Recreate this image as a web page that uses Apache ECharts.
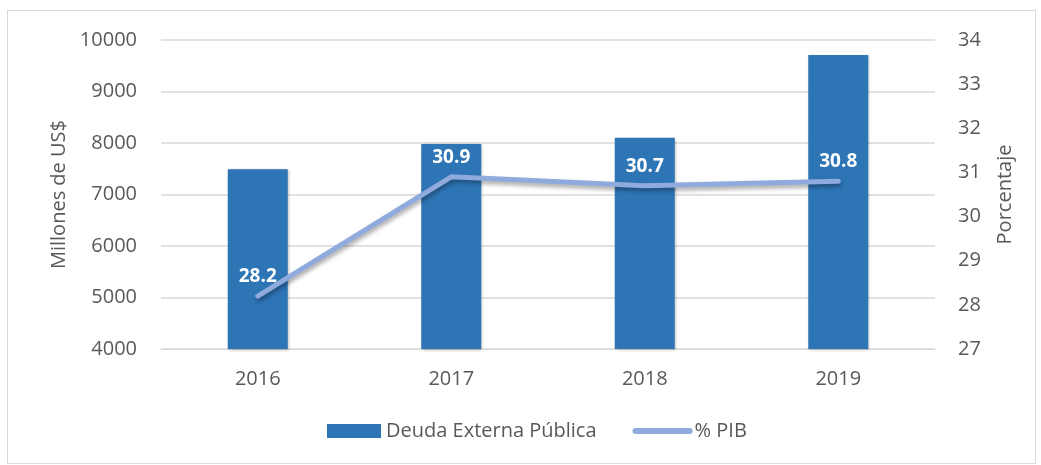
<!DOCTYPE html>
<html>
<head>
<meta charset="utf-8">
<script src="https://cdn.jsdelivr.net/npm/echarts@6/dist/echarts.min.js"></script>
<style>
  html, body { margin: 0; padding: 0; background: #fff; }
  #chart { width: 1041px; height: 465px; }
  .frame { position: absolute; left: 7px; top: 10px; width: 1027px; height: 452px; border: 1px solid #d9d9d9; pointer-events: none; }
</style>
</head>
<body>
<div id="chart"></div>
<div class="frame"></div>
<script>
// data
const years = ['2016', '2017', '2018', '2019']
const deuda = [7490, 7980, 8100, 9710]
const pctPib = [28.2, 30.9, 30.7, 30.8]

const textColor = '#595959'
const fontFamily = '"Open Sans", "Liberation Sans", sans-serif'

const chart = echarts.init(document.getElementById('chart'))

chart.setOption({
  animation: false,
  textStyle: { fontFamily },
  grid: { left: 161, right: 106, top: 40, bottom: 116 },
  legend: {
    bottom: 19,
    left: 322,
    itemGap: 36,
    itemWidth: 54,
    itemHeight: 14,
    textStyle: { color: textColor, fontSize: 20, fontFamily },
    data: [
      { name: 'Deuda Externa Pública', icon: 'rect' },
      { name: '% PIB', lineStyle: { width: 6, cap: 'round' } }
    ]
  },
  xAxis: {
    type: 'category',
    data: years,
    axisLine: { lineStyle: { color: '#d9d9d9' } },
    axisTick: { show: false },
    axisLabel: { color: textColor, fontSize: 20, margin: 20 }
  },
  yAxis: [
    {
      type: 'value',
      min: 4000,
      max: 10000,
      interval: 1000,
      name: 'Millones de US$',
      nameLocation: 'middle',
      nameGap: 92,
      nameTextStyle: { color: textColor, fontSize: 20 },
      axisLine: { show: false },
      axisTick: { show: false },
      axisLabel: { color: textColor, fontSize: 20, margin: 24, formatter: v => String(v) },
      splitLine: { lineStyle: { color: '#d9d9d9', width: 1.5 } }
    },
    {
      type: 'value',
      min: 27,
      max: 34,
      interval: 1,
      name: 'Porcentaje',
      nameLocation: 'middle',
      nameGap: 60,
      nameRotate: 90,
      nameTextStyle: { color: textColor, fontSize: 20 },
      axisLine: { show: false },
      axisTick: { show: false },
      axisLabel: { color: textColor, fontSize: 20, margin: 23 },
      splitLine: { show: false }
    }
  ],
  series: [
    {
      name: 'Deuda Externa Pública',
      type: 'bar',
      data: deuda,
      barWidth: '31%',
      itemStyle: {
        color: '#2e75b6',
        shadowColor: 'rgba(0,0,0,0.3)',
        shadowBlur: 3,
        shadowOffsetX: 1,
        shadowOffsetY: 1
      }
    },
    {
      name: '% PIB',
      type: 'line',
      yAxisIndex: 1,
      data: pctPib,
      symbol: 'circle',
      symbolSize: 6,
      showAllSymbol: true,
      lineStyle: {
        color: '#8faadc',
        width: 5,
        cap: 'round',
        join: 'round',
        shadowColor: 'rgba(0,0,0,0.35)',
        shadowBlur: 4,
        shadowOffsetX: 1,
        shadowOffsetY: 3
      },
      itemStyle: { color: 'rgba(0,0,0,0)', borderWidth: 0 },
      label: {
        show: true,
        position: 'top',
        distance: 7,
        color: '#fff',
        fontWeight: 'bold',
        fontSize: 19,
        formatter: p => p.value.toFixed(1)
      },
      z: 5
    }
  ]
})
</script>
</body>
</html>
